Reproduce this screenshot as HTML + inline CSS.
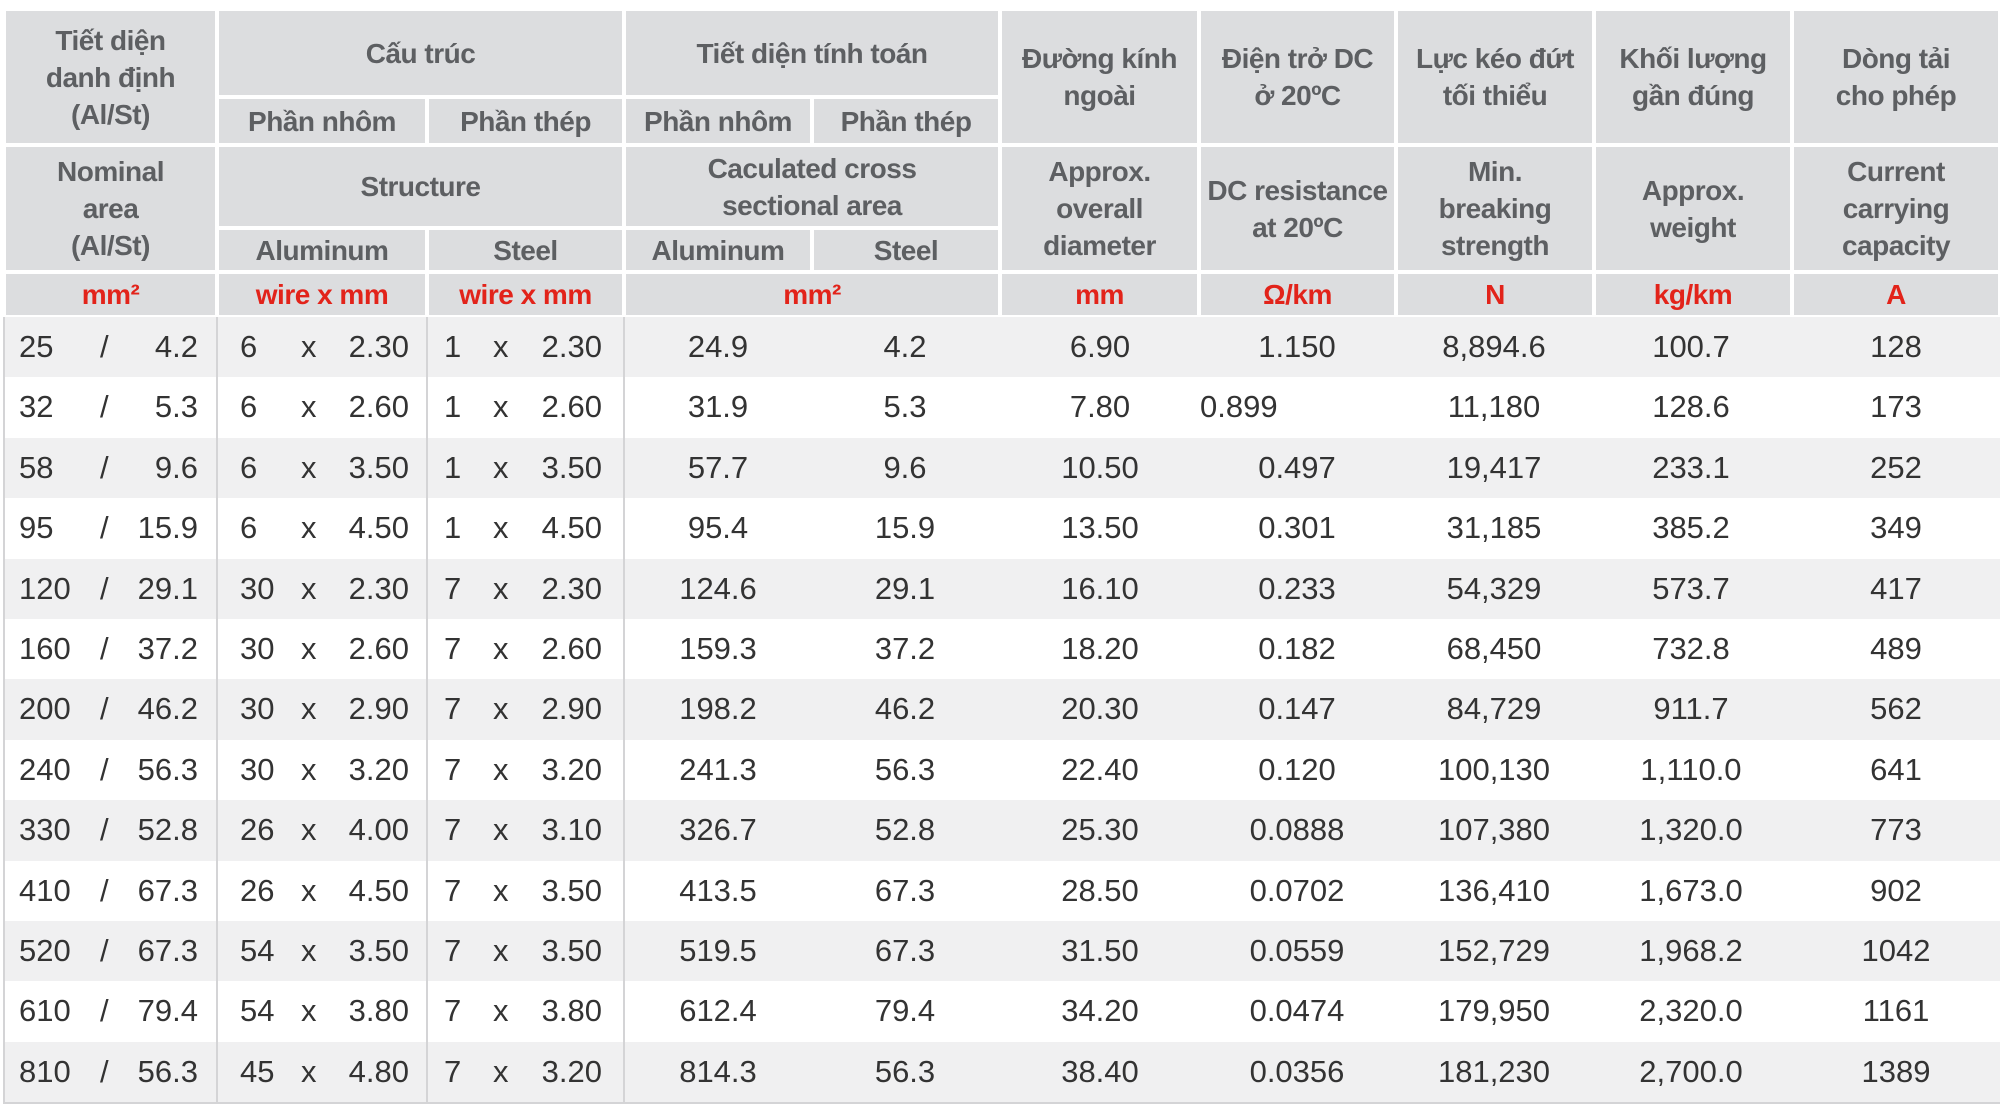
<!DOCTYPE html>
<html><head><meta charset="utf-8"><style>
*{margin:0;padding:0;box-sizing:border-box}
body{width:2006px;height:1110px;background:#fff;position:relative;overflow:hidden;font-family:"Liberation Sans Narrow","Liberation Sans","DejaVu Sans",sans-serif}
.h{position:absolute;background:#dcdddf;border:2px solid #fff;display:flex;align-items:center;justify-content:center;text-align:center;color:#5d5f62;font-weight:bold;font-size:28px;line-height:37px;letter-spacing:-0.5px}
.u{color:#e2231a}
.r{position:absolute;left:4px;width:1996px;height:60.4px}
.t{position:absolute;font-size:31px;color:#333;line-height:60px;top:0;white-space:nowrap}
.c{text-align:center}
.vl{position:absolute;top:317px;height:786px;width:2px;background:#d4d4d6}
</style></head><body>
<!-- header block 1 -->
<div class="h" style="left:4px;top:9px;width:213px;height:136px">Tiết diện<br>danh định<br>(Al/St)</div>
<div class="h" style="left:217px;top:9px;width:407px;height:88px">Cấu trúc</div>
<div class="h" style="left:217px;top:97px;width:210px;height:48px">Phần nhôm</div>
<div class="h" style="left:427px;top:97px;width:197px;height:48px">Phần thép</div>
<div class="h" style="left:624px;top:9px;width:376px;height:88px">Tiết diện tính toán</div>
<div class="h" style="left:624px;top:97px;width:188px;height:48px">Phần nhôm</div>
<div class="h" style="left:812px;top:97px;width:188px;height:48px">Phần thép</div>
<div class="h" style="left:1000px;top:9px;width:199px;height:136px">Đường kính<br>ngoài</div>
<div class="h" style="left:1199px;top:9px;width:197px;height:136px">Điện trở DC<br>ở 20ºC</div>
<div class="h" style="left:1396px;top:9px;width:198px;height:136px">Lực kéo đứt<br>tối thiểu</div>
<div class="h" style="left:1594px;top:9px;width:198px;height:136px">Khối lượng<br>gần đúng</div>
<div class="h" style="left:1792px;top:9px;width:208px;height:136px">Dòng tải<br>cho phép</div>
<!-- header block 2 -->
<div class="h" style="left:4px;top:145px;width:213px;height:127px">Nominal<br>area<br>(Al/St)</div>
<div class="h" style="left:217px;top:145px;width:407px;height:83px">Structure</div>
<div class="h" style="left:217px;top:228px;width:210px;height:44px">Aluminum</div>
<div class="h" style="left:427px;top:228px;width:197px;height:44px">Steel</div>
<div class="h" style="left:624px;top:145px;width:376px;height:83px">Caculated cross<br>sectional area</div>
<div class="h" style="left:624px;top:228px;width:188px;height:44px">Aluminum</div>
<div class="h" style="left:812px;top:228px;width:188px;height:44px">Steel</div>
<div class="h" style="left:1000px;top:145px;width:199px;height:127px">Approx.<br>overall<br>diameter</div>
<div class="h" style="left:1199px;top:145px;width:197px;height:127px">DC resistance<br>at 20ºC</div>
<div class="h" style="left:1396px;top:145px;width:198px;height:127px">Min.<br>breaking<br>strength</div>
<div class="h" style="left:1594px;top:145px;width:198px;height:127px">Approx.<br>weight</div>
<div class="h" style="left:1792px;top:145px;width:208px;height:127px">Current<br>carrying<br>capacity</div>
<!-- units -->
<div class="h u" style="left:4px;top:272px;width:213px;height:45px">mm²</div>
<div class="h u" style="left:217px;top:272px;width:210px;height:45px">wire x mm</div>
<div class="h u" style="left:427px;top:272px;width:197px;height:45px">wire x mm</div>
<div class="h u" style="left:624px;top:272px;width:376px;height:45px">mm²</div>
<div class="h u" style="left:1000px;top:272px;width:199px;height:45px">mm</div>
<div class="h u" style="left:1199px;top:272px;width:197px;height:45px">Ω/km</div>
<div class="h u" style="left:1396px;top:272px;width:198px;height:45px">N</div>
<div class="h u" style="left:1594px;top:272px;width:198px;height:45px">kg/km</div>
<div class="h u" style="left:1792px;top:272px;width:208px;height:45px">A</div>
<div id="rows"></div>
<script>
var d=[
["25","4.2","6","2.30","1","2.30","24.9","4.2","6.90","1.150","8,894.6","100.7","128"],
["32","5.3","6","2.60","1","2.60","31.9","5.3","7.80","0.899","11,180","128.6","173"],
["58","9.6","6","3.50","1","3.50","57.7","9.6","10.50","0.497","19,417","233.1","252"],
["95","15.9","6","4.50","1","4.50","95.4","15.9","13.50","0.301","31,185","385.2","349"],
["120","29.1","30","2.30","7","2.30","124.6","29.1","16.10","0.233","54,329","573.7","417"],
["160","37.2","30","2.60","7","2.60","159.3","37.2","18.20","0.182","68,450","732.8","489"],
["200","46.2","30","2.90","7","2.90","198.2","46.2","20.30","0.147","84,729","911.7","562"],
["240","56.3","30","3.20","7","3.20","241.3","56.3","22.40","0.120","100,130","1,110.0","641"],
["330","52.8","26","4.00","7","3.10","326.7","52.8","25.30","0.0888","107,380","1,320.0","773"],
["410","67.3","26","4.50","7","3.50","413.5","67.3","28.50","0.0702","136,410","1,673.0","902"],
["520","67.3","54","3.50","7","3.50","519.5","67.3","31.50","0.0559","152,729","1,968.2","1042"],
["610","79.4","54","3.80","7","3.80","612.4","79.4","34.20","0.0474","179,950","2,320.0","1161"],
["810","56.3","45","4.80","7","3.20","814.3","56.3","38.40","0.0356","181,230","2,700.0","1389"]];
var cen=[718,905,1100,1297,1494,1691,1896];
var h='';
d.forEach(function(r,i){
 var top=317+i*60.4;
 h+='<div class="r" style="top:'+top+'px;background:'+(i%2==0?'#f0f0f1':'#fff')+'">';
 h+='<span class="t" style="left:15px">'+r[0]+'</span>';
 h+='<span class="t" style="left:96px">/</span>';
 h+='<span class="t" style="right:'+(2000-198)+'px">'+r[1]+'</span>';
 h+='<span class="t" style="left:236px">'+r[2]+'</span>';
 h+='<span class="t" style="left:297px">x</span>';
 h+='<span class="t" style="right:'+(2000-409)+'px">'+r[3]+'</span>';
 h+='<span class="t" style="left:440px">'+r[4]+'</span>';
 h+='<span class="t" style="left:489px">x</span>';
 h+='<span class="t" style="right:'+(2000-602)+'px">'+r[5]+'</span>';
 for(var k=0;k<7;k++){
  var x=cen[k]-4;
  if(k==3&&r[9]=="0.899"){h+='<span class="t" style="left:1196px">0.899</span>';continue;}
  h+='<span class="t c" style="left:'+(x-100)+'px;width:200px">'+r[6+k]+'</span>';
 }
 h+='</div>';
});
h+='<div class="vl" style="left:3px"></div><div class="vl" style="left:216px"></div><div class="vl" style="left:426px"></div><div class="vl" style="left:623px"></div>';
h+='<div style="position:absolute;left:3px;top:1102px;width:1997px;height:2px;background:#d4d4d6"></div>';
document.getElementById('rows').innerHTML=h;
</script>
</body></html>
